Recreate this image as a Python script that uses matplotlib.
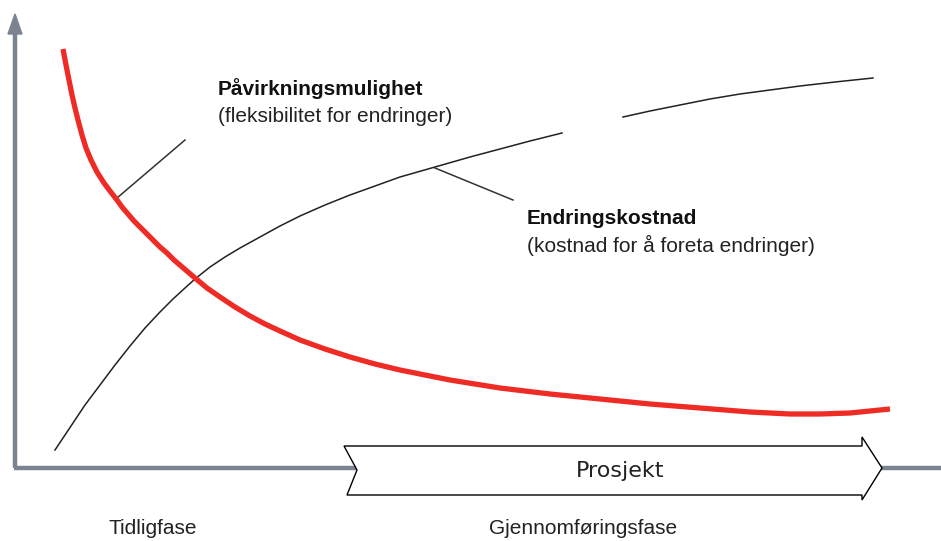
import matplotlib
matplotlib.use("Agg")
import matplotlib.pyplot as plt
from matplotlib.patches import Polygon

# Curve values (horizontal position, vertical position in picture units)
red_x = [63, 66, 69, 72, 75, 78, 82, 86, 91, 97, 104, 110, 117, 122, 128, 134, 140,
         146, 153, 160, 167, 174, 181, 188, 195, 207, 220, 235, 250, 265, 280, 300, 325, 350, 375, 400,
         425, 450, 475, 500, 550, 600, 650, 700, 750, 790, 820, 850, 870, 890]
red_y = [49, 65, 80, 95, 108, 120, 135, 148, 160, 172, 183, 191, 200, 207, 214, 221, 227,
         233, 240, 247, 253, 260, 266, 272, 278, 288, 297, 307, 316, 324, 331, 340, 349, 357, 364, 370,
         375, 380, 384, 388, 394, 399, 404, 408, 412, 414, 414, 413, 411, 409]

cost_x1 = [55, 65, 75, 85, 100, 115, 130, 145, 160, 173, 185, 195, 210, 225, 240, 260, 280, 300,
           325, 350, 375, 400, 435, 470, 500, 530, 562]
cost_y1 = [450, 435, 420, 405, 385, 365, 346, 328, 312, 299, 288, 279, 267, 257, 248, 237, 226, 216,
           205, 195, 186, 177, 167, 157, 149, 141, 133]
cost_x2 = [623, 650, 680, 710, 740, 770, 800, 835, 873]
cost_y2 = [117, 111, 105, 99, 94, 90, 86, 82, 78]

labels_phase = ["Tidligfase", "Gjennomføringsfase"]
label_project = "Prosjekt"
label_flex = ["Påvirkningsmulighet", "(fleksibilitet for endringer)"]
label_cost = ["Endringskostnad", "(kostnad for å foreta endringer)"]

fig = plt.figure(figsize=(9.41, 5.41), dpi=100)
ax = fig.add_axes([0, 0, 1, 1])
ax.set_xlim(0, 941)
ax.set_ylim(541, 0)
ax.axis("off")

axis_col = "#7b8391"
# axes
ax.plot([15, 15], [468, 30], color=axis_col, lw=3.2, solid_capstyle="butt", zorder=2)
ax.add_patch(Polygon([[8, 34], [22, 34], [15, 14]], closed=True, color=axis_col, zorder=2))
ax.plot([14, 941], [468, 468], color=axis_col, lw=3.2, solid_capstyle="butt", zorder=1)

# Project chevron
chev = Polygon([[344, 446], [862, 446], [862, 437], [882, 468], [862, 500], [862, 495],
                [347, 495], [357, 470]], closed=True, facecolor="white", edgecolor="black", lw=1.0, zorder=3)
ax.add_patch(chev)
ax.text(620, 471, label_project, fontsize=16, family="DejaVu Sans", ha="center", va="center", color="#222222", zorder=4)

# curves
ax.plot(cost_x1, cost_y1, color="#222222", lw=1.1, zorder=4)
ax.plot(cost_x2, cost_y2, color="#222222", lw=1.1, zorder=4)
ax.plot(red_x, red_y, color="#ee2b24", lw=3.8, solid_capstyle="butt", solid_joinstyle="round", zorder=5)

# leader lines
ax.plot([117, 185], [198, 140], color="#333333", lw=1.1, zorder=4)
ax.plot([435, 513], [168, 200], color="#333333", lw=1.1, zorder=4)

# labels
fs = 15
ax.text(218, 89, label_flex[0], fontsize=fs, fontweight="bold", family="Liberation Sans", va="center", ha="left", color="#111111")
ax.text(218, 116, label_flex[1], fontsize=fs, family="Liberation Sans", va="center", ha="left", color="#222222")
ax.text(527, 219, label_cost[0], fontsize=fs, fontweight="bold", family="Liberation Sans", va="center", ha="left", color="#111111")
ax.text(527, 245, label_cost[1], fontsize=fs, family="Liberation Sans", va="center", ha="left", color="#222222")

ax.text(153, 528, labels_phase[0], fontsize=fs, family="Liberation Sans", ha="center", va="center", color="#222222")
ax.text(583, 528, labels_phase[1], fontsize=fs, family="Liberation Sans", ha="center", va="center", color="#222222")

fig.savefig("out.png", dpi=100)
